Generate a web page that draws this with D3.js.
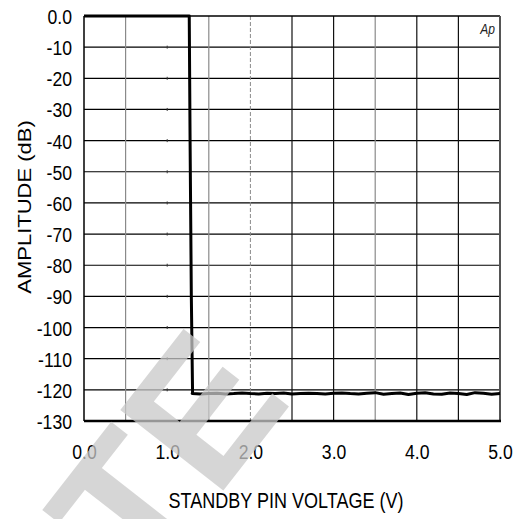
<!DOCTYPE html>
<html>
<head>
<meta charset="utf-8">
<script src="https://cdn.jsdelivr.net/npm/d3@7"></script>
<style>
  html, body { margin: 0; padding: 0; background: #fff; }
  svg { display: block; }
  text { font-family: "Liberation Sans", Arial, sans-serif; }
</style>
</head>
<body>
<svg id="chart" width="520" height="519"></svg>
<script>
// ---- data ----
const xTickValues = [0, 1, 2, 3, 4, 5];
const xTickLabels = ["0.0", "1.0", "2.0", "3.0", "4.0", "5.0"];
const xGridValues = [0.5, 1.0, 1.5, 2.0, 2.5, 3.0, 3.5, 4.0, 4.5];
const yTickValues = [0, -10, -20, -30, -40, -50, -60, -70, -80, -90, -100, -110, -120, -130];
const yTickLabels = ["0.0", "-10", "-20", "-30", "-40", "-50", "-60", "-70", "-80", "-90", "-100", "-110", "-120", "-130"];
const stepX = [0.0, 1.265, 1.275, 1.29, 1.305];
const stepV = [0, 0, -40, -90, -121.2];
const flatX = [1.3,1.4,1.5,1.6,1.7,1.8,1.9,2.0,2.1,2.2,2.3,2.4,2.5,2.6,2.7,2.8,2.9,3.0,3.1,3.2,3.3,3.4,3.5,3.6,3.7,3.8,3.9,4.0,4.1,4.2,4.3,4.4,4.5,4.6,4.7,4.8,4.9,5.0];
const flatV = [-121.2,-121.3,-121.2,-121.1,-121.3,-121.2,-121.0,-121.2,-121.3,-121.1,
               -121.2,-121.0,-121.3,-121.2,-121.1,-121.2,-121.3,-121.1,-121.0,-121.2,
               -121.3,-121.1,-120.9,-121.4,-121.2,-121.0,-121.5,-121.1,-120.9,-121.3,
               -121.4,-121.0,-121.2,-121.5,-120.9,-121.1,-121.4,-121.2];
const xTitle = "STANDBY PIN VOLTAGE (V)";
const yTitle = "AMPLITUDE (dB)";
const cornerNote = "Ap";
const watermark = "TE";

// ---- layout ----
const L = 84, R = 500, T = 16, B = 421;
const svg = d3.select("#chart");
const x = d3.scaleLinear().domain([0, 5]).range([L, R]);
const y = d3.scaleLinear().domain([0, -130]).range([T, B]);

// grid: horizontal
svg.append("g").selectAll("line").data(yTickValues.filter(v => v !== 0 && v !== -130)).join("line")
  .attr("x1", L).attr("x2", R).attr("y1", d => y(d)).attr("y2", d => y(d))
  .attr("stroke", "#000").attr("stroke-width", 1.2);

// grid: vertical
function vStyle(v) {
  if (v === 0.5 || v === 1.5 || v === 3.5) return { c: "#8a8a8a", w: 1.2, dash: null };
  if (v === 2.0) return { c: "#8a8a8a", w: 1, dash: "4,2" };
  return { c: "#111", w: 1.2, dash: null };
}
svg.append("g").selectAll("line").data(xGridValues.filter(v => v !== 1.0)).join("line")
  .attr("x1", d => x(d)).attr("x2", d => x(d)).attr("y1", T).attr("y2", B)
  .attr("stroke", d => vStyle(d).c).attr("stroke-width", d => vStyle(d).w)
  .attr("stroke-dasharray", d => vStyle(d).dash);
// faint marks where the 1.0 line would be
svg.append("g").selectAll("line").data(yTickValues.filter(v => v !== 0 && v !== -130)).join("line")
  .attr("x1", x(1.0)).attr("x2", x(1.0)).attr("y1", d => y(d) - 1.5).attr("y2", d => y(d) + 1.5)
  .attr("stroke", "#333").attr("stroke-width", 1);

// frame
svg.append("line").attr("x1", L).attr("x2", R).attr("y1", T).attr("y2", T).attr("stroke", "#000").attr("stroke-width", 1.5);
svg.append("line").attr("x1", L).attr("x2", L).attr("y1", T).attr("y2", B).attr("stroke", "#000").attr("stroke-width", 1.5);
svg.append("line").attr("x1", R).attr("x2", R).attr("y1", T).attr("y2", B + 1).attr("stroke", "#555").attr("stroke-width", 2);
svg.append("line").attr("x1", L).attr("x2", R + 1).attr("y1", B).attr("y2", B).attr("stroke", "#000").attr("stroke-width", 2.5);

// axes (labels only)
const yAxis = d3.axisLeft(y).tickValues(yTickValues)
  .tickFormat((d, i) => yTickLabels[i]).tickSize(0);
const gy = svg.append("g").attr("transform", `translate(${L},0)`).call(yAxis);
gy.select(".domain").remove();
gy.selectAll("text").attr("x", null).attr("dy", null)
  .attr("transform", "translate(-12,7.5) scale(0.84,1)")
  .attr("text-anchor", "end")
  .style("font-size", "21px").style("font-family", "'Liberation Sans', Arial, sans-serif").style("fill", "#000");

const xAxis = d3.axisBottom(x).tickValues(xTickValues)
  .tickFormat((d, i) => xTickLabels[i]).tickSize(0);
const gx = svg.append("g").attr("transform", `translate(0,${B})`).call(xAxis);
gx.select(".domain").remove();
gx.selectAll("text").attr("y", null).attr("dy", null)
  .attr("transform", "translate(0,38) scale(0.84,1)")
  .attr("text-anchor", "middle")
  .style("font-size", "21px").style("font-family", "'Liberation Sans', Arial, sans-serif").style("fill", "#000");

// titles
svg.append("text").attr("transform", `translate(286,508) scale(0.82,1)`)
  .attr("text-anchor", "middle").style("font-size", "22px").style("fill", "#000").text(xTitle);
svg.append("text").attr("transform", `translate(31,207) rotate(-90) scale(1,0.86)`)
  .attr("text-anchor", "middle").style("font-size", "22px").style("fill", "#000").text(yTitle);

// corner note
svg.append("text").attr("transform", "translate(495,34) scale(0.86,1)").attr("text-anchor", "end")
  .style("font-size", "14px").style("font-style", "italic").style("fill", "#222").text(cornerNote);

// data line
const pts = stepX.map((d, i) => [d, stepV[i]]).concat(flatX.map((d, i) => [d, flatV[i]]));
svg.append("path").datum(pts)
  .attr("d", d3.line().x(d => x(d[0])).y(d => y(d[1])))
  .attr("fill", "none").attr("stroke", "#000").attr("stroke-width", 3).attr("stroke-linejoin", "round");

// watermark
svg.append("text").attr("transform", "translate(144,592) rotate(-52)")
  .style("font-size", "190px").style("font-weight", "bold")
  .style("fill", "rgb(200,200,200)").style("fill-opacity", 0.75).text(watermark);
</script>
</body>
</html>
